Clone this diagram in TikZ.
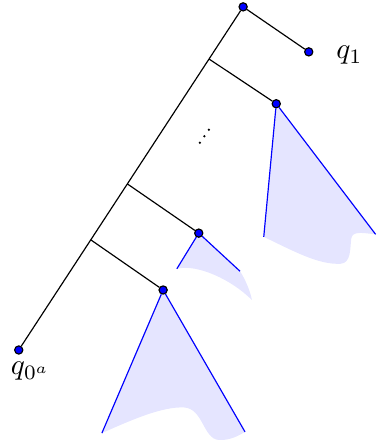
\documentclass[tikz,border=0pt]{standalone}
\usetikzlibrary{positioning,calc,backgrounds}

\begin{document}
\begin{tikzpicture}[
  scale=0.75,
  dot/.style={circle, fill=blue, draw=black, inner sep=0pt, minimum size=2.8pt},
  cone/.style={fill=blue!10},
  side/.style={blue}
]
\useasboundingbox (0,0) rectangle (6.016,7.12);

\node[dot] (top) at (3.89,7.01) {};
\node[dot] (q1) at (4.94,6.29) {};
\node[dot] (q0) at (0.30,1.52) {};
\node[dot] (n1) at (4.42,5.46) {};
\node[dot] (n2) at (3.18,3.39) {};
\node[dot] (n3) at (2.61,2.48) {};

\node[right=1.5mm of q1, yshift=-1.2pt] (l1) {$q_1$};
\node[below=-1pt of q0, xshift=4pt] (l0) {$q_{0^a}$};

\coordinate (b1) at ($(top)!0.152!(q0)$);
\coordinate (b2) at ($(top)!0.516!(q0)$);
\coordinate (b3) at ($(top)!0.679!(q0)$);

% spine and branches
\draw (top) -- (q0);
\draw (top) -- (q1);
\draw (b1) -- (n1);
\draw (b2) -- (n2);
\draw (b3) -- (n3);

% dots between the branches
\coordinate (dots) at (3.27,4.94);
\foreach \t in {-1,0,1}
  \fill ($(dots)+(\t*0.072,\t*0.104)$) circle (0.6pt);

% cones
\coordinate (L1) at (4.22,3.33);
\coordinate (R1) at (6.01,3.37);
\coordinate (L2) at (2.83,2.82);
\coordinate (R2) at (3.84,2.78);
\coordinate (L3) at (1.63,0.19);
\coordinate (R3) at (3.92,0.21);

\begin{scope}[on background layer]
\fill[cone] (n1.center) -- (L1) .. controls (4.7,3.1) and (5.1,2.88) .. (5.45,2.9)
  .. controls (5.62,2.91) and (5.6,3.15) .. (5.62,3.3)
  .. controls (5.64,3.42) and (5.76,3.4) .. (R1) -- cycle;
\fill[cone] (n2.center) -- (L2) .. controls (3.15,2.9) and (3.7,2.65) .. (4.03,2.32)
  .. controls (4.01,2.45) and (3.92,2.66) .. (R2) -- cycle;
\fill[cone] (n3.center) -- (L3) .. controls (2.1,0.4) and (2.6,0.62) .. (2.95,0.6)
  .. controls (3.25,0.58) and (3.25,0.1) .. (3.5,0.08)
  .. controls (3.7,0.07) and (3.85,0.17) .. (R3) -- cycle;
\end{scope}

\draw[side] (L1) -- (n1) -- (R1);
\draw[side] (L2) -- (n2) -- (R2);
\draw[side] (L3) -- (n3) -- (R3);
\end{tikzpicture}
\end{document}
